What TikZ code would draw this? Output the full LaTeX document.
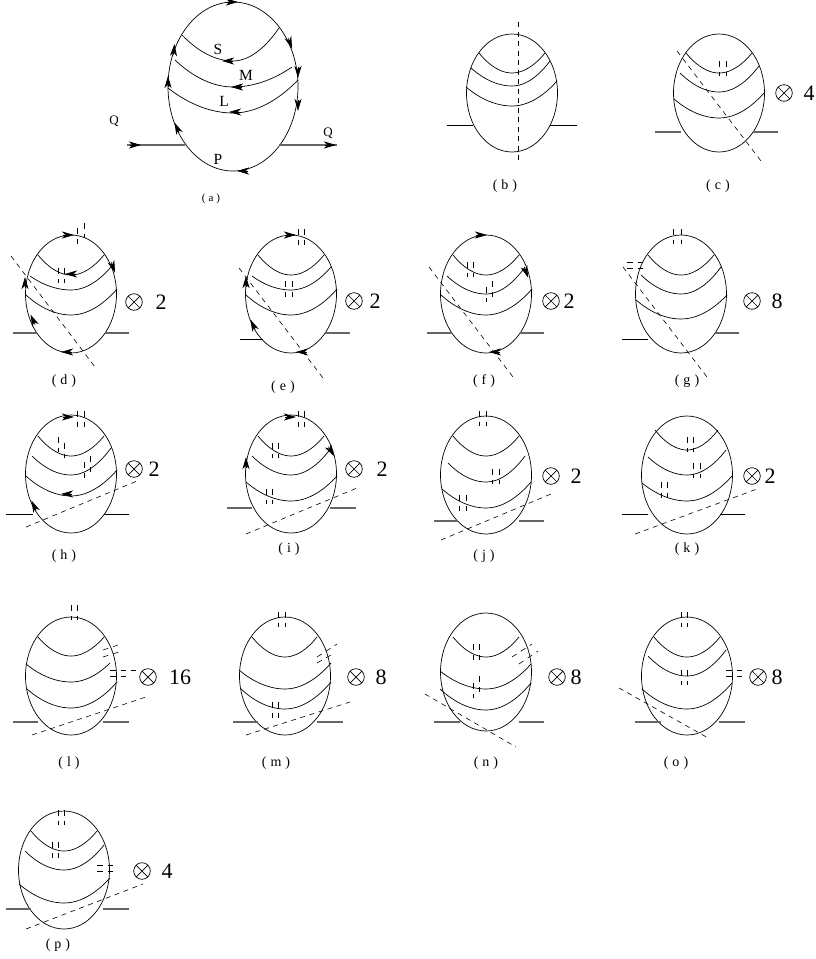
\documentclass[tikz,border=0pt]{standalone}
\usepackage{fontspec}
\setmainfont{Liberation Serif}
\usetikzlibrary{arrows.meta}
\newcommand{\egg}[3]{\begin{scope}[shift={(#1,#2)}]
  \draw[eggline] (0,0) ellipse (45.5 and 59);
  \foreach \xa/\ya/\yb/\xc/\yc in {#3} \draw[eggline] (\xa,\ya) parabola bend (0,\yb) (\xc,\yc);
\end{scope}}
\newcommand{\ticks}[1]{\foreach \xa/\ya/\xb/\yb in {#1} \draw[tick] (\xa,\ya) -- (\xb,\yb);}
\newcommand{\heads}[1]{\foreach \xa/\ya/\ang in {#1} \draw[head] (\xa,\ya) ++(\ang+180:5) -- ++(\ang:11);}
\newcommand{\factor}[5]{\draw[eggline] (#2,#3) circle (8.3) +(45:8.3) -- +(225:8.3) +(135:8.3) -- +(-45:8.3);
  \node[num] (n#1) at (#4,#3) {#5};}
\newcommand{\lbl}[3]{\node[caplabel] (cap#1) at (#2,#3) {(\hspace{4pt}#1\hspace{4pt})};}

\begin{document}
\begin{tikzpicture}[x=1pt, y=-1pt,
  eggline/.style={line width=0.7pt},
  leg/.style={line width=0.7pt},
  greyleg/.style={line width=1.1pt, black!60},
  cut/.style={line width=0.6pt, dash pattern=on 5pt off 4.5pt},
  tick/.style={line width=0.6pt, dash pattern=on 5.5pt off 5pt},
  head/.style={line width=0.7pt, -{Stealth[length=12pt, width=7pt, inset=3.5pt]}},
  num/.style={font=\fontsize{22}{26}\selectfont, inner sep=0pt},
  caplabel/.style={font=\fontsize{14}{16}\selectfont, inner sep=0pt},
  qlabel/.style={font=\fontsize{13}{15}\selectfont, inner sep=0pt},
  part/.style={font=\fontsize{15.5}{18}\selectfont, inner sep=0pt}]
\useasboundingbox (0,0) rectangle (815,959);

\draw[eggline] (233,86.5) ellipse (65 and 84.5);
\foreach \xa/\ya/\yb/\xc/\yc in {182/35/61/279/28, 175/60/87/292/67, 168/88/113/298/80}
  \draw[eggline] (\xa,\ya) parabola bend (233,\yb) (\xc,\yc);
\draw[greyleg] (127,145) -- (185,145);
\draw[greyleg] (279,145) -- (337,145);
\heads{232/2/0, 290/43/70, 298/72/90, 298/105/90, 174/50/-85, 168/82/-90, 177/128/-115, 243/171/180, 228/61/180, 237/87/180, 235/112/180, 135/145/0, 330/145/0}
\node[part] (s) at (218,49) {S};
\node[part] (m) at (246,75) {M};
\node[part] (l) at (224,101) {L};
\node[part] (p) at (218,159) {P};
\node[qlabel] (qa) at (114,121) {Q};
\node[qlabel] (qb) at (328,133) {Q};
\node[caplabel, font=\fontsize{11}{13}\selectfont] (capa) at (211,199) {(\hspace{3pt}a\hspace{3pt})};

\egg{512}{93}{-33/-40/-20/33/-40, -41/-25/-7/38/-32, -46/-6/13/45/-12}
\draw[leg] (447,125) -- (473,125);
\draw[leg] (550,125) -- (577,125);
\draw[cut] (518,22) -- (518,162);
\lbl{b}{505}{186}

\egg{719}{93}{-33/-40/-20/33/-40, -39/-20/-1/40/-27, -45/6/25/45/0}
\draw[greyleg] (655,132) -- (681,132);
\draw[greyleg] (753,132) -- (778,132);
\draw[cut] (677,51) -- (761,161);
\ticks{719/61/719/76, 726/61/726/76}
\factor{c}{784}{93}{809}{4}
\lbl{c}{718}{186}

\egg{71}{294}{-33/-39/-19/33/-39, -41/-18/-4/40/-27, -45/1/21/46/-5}
\draw[greyleg] (13,333) -- (37,333);
\draw[greyleg] (105,333) -- (129,333);
\draw[cut] (11,256) -- (95,367);
\ticks{77/228/77/244, 84/223/84/238, 58/268/58/283, 64/268/64/283}
\heads{68/235/0, 113/267/70, 25/283/-90, 33/320/-115, 67/352/180, 71/274/180}
\factor{d}{134}{302}{161}{2}
\lbl{d}{64}{381}

\egg{291}{294}{-33/-39/-19/33/-39, -39/-18/-4/40/-27, -45/1/21/46/-5}
\draw[leg] (240,339) -- (263,339);
\draw[greyleg] (325,333) -- (350,333);
\draw[cut] (239,268) -- (323,378);
\ticks{298/229/298/245, 304/229/304/245, 285/281/285/297, 292/281/292/297}
\heads{290/235/0, 246/282/-90, 253/325/-115, 302/352/180}
\factor{e}{354}{301}{375}{2}
\lbl{e}{283}{387}

\egg{486}{294}{-33/-39/-19/33/-39, -39/-18/0/39/-27, -45/1/21/46/-5}
\draw[greyleg] (427,333) -- (452,333);
\draw[greyleg] (520,333) -- (544,333);
\draw[cut] (429,267) -- (513,377);
\ticks{467/262/467/277, 473/262/473/277, 486/287/486/302, 492/281/492/297}
\heads{481/235/0, 526/272/70, 495/352/180}
\factor{f}{551}{301}{569}{2}
\lbl{f}{484}{381}

\egg{681}{294}{-33/-39/-19/33/-39, -40/-19/0/40/-27, -45/6/25/46/1}
\draw[leg] (622,339) -- (648,339);
\draw[greyleg] (715,333) -- (739,333);
\draw[cut] (623,267) -- (707,377);
\ticks{673/229/673/244, 681/229/681/244, 627/262/644/262, 627/268/644/268}
\factor{g}{752}{301}{777}{8}
\lbl{g}{687}{381}

\egg{71}{474}{-33/-38/-18/33/-38, -39/-18/1/40/-26, -45/2/22/46/-4}
\draw[leg] (6,514) -- (33,514);
\draw[leg] (104,514) -- (129,514);
\draw[cut] (26,527) -- (137,481);
\ticks{77/411/77/427, 84/411/84/427, 58/437/58/452, 64/443/64/458, 84/462/84/478, 90/456/90/472}
\heads{68/417/0, 67/494/180, 34/506/-115}
\factor{h}{134}{469}{154}{2}
\lbl{h}{64}{556}

\egg{291}{474}{-33/-38/-18/33/-38, -39/-18/1/40/-26, -45/8/27/46/2}
\draw[greyleg] (227,508) -- (252,508);
\draw[greyleg] (330,508) -- (356,508);
\draw[cut] (246,534) -- (357,488);
\ticks{298/411/298/427, 304/411/304/427, 272/443/272/458, 278/443/278/458, 266/489/266/504, 272/489/272/504}
\heads{290/417/0, 331/451/60, 246/463/-90}
\factor{i}{354}{469}{382}{2}
\lbl{i}{289}{549}

\egg{486}{475}{-33/-39/-19/33/-39, -38/-12/7/39/-19, -44/14/33/45/7}
\draw[greyleg] (434,521) -- (458,521);
\draw[greyleg] (519,521) -- (544,521);
\draw[cut] (441,540) -- (551,494);
\ticks{479/411/479/426, 486/411/486/426, 492/469/492/484, 499/469/499/484, 459/495/459/511, 466/495/466/511}
\factor{j}{551}{476}{576}{2}
\lbl{j}{484}{556}

\egg{687}{475}{-32/-45/-25/31/-45, -39/-18/0/39/-25, -45/8/26/45/1}
\draw[leg] (622,514) -- (648,514);
\draw[leg] (720,514) -- (745,514);
\draw[cut] (635,534) -- (757,489);
\ticks{687/437/687/452, 693/437/693/452, 693/463/693/478, 700/463/700/478, 661/482/661/498, 667/482/667/498}
\factor{k}{752}{476}{770}{2}
\lbl{k}{687}{549}

\egg{71}{676}{-33/-39/-20/33/-39, -45/-12/6/39/-13, -44/13/32/46/6}
\draw[greyleg] (13,722) -- (38,722);
\draw[greyleg] (103,722) -- (129,722);
\draw[cut] (32,735) -- (146,697);
\ticks{71/605/71/620, 77/605/77/620, 103/650/118/645, 103/657/119/652, 110/670/136/670, 110/676/128/676}
\factor{l}{148}{677}{180}{16}
\lbl{l}{69}{763}

\egg{285}{676}{-33/-39/-19/32/-39, -46/-6/13/46/-13, -44/13/33/46/6}
\draw[greyleg] (233,722) -- (258,722);
\draw[greyleg] (317,722) -- (343,722);
\draw[cut] (246,735) -- (350,702);
\ticks{278/612/278/627, 285/612/285/627, 317/657/337/644, 317/663/331/655, 272/702/272/718, 278/702/278/718}
\factor{m}{356}{677}{381}{8}
\lbl{m}{276}{763}

\egg{486}{672}{-33/-35/-15/33/-35, -46/-1/17/45/-8, -46/17/38/45/11}
\draw[greyleg] (434,722) -- (460,722);
\draw[greyleg] (519,722) -- (544,722);
\draw[cut] (425,694) -- (516,747);
\ticks{473/644/473/660, 479/644/479/660, 473/683/473/698, 479/676/479/692, 512/657/532/644, 519/664/538/651}
\factor{n}{557}{677}{576}{8}
\lbl{n}{486}{763}

\egg{687}{676}{-33/-39/-19/33/-39, -39/-20/0/39/-26, -45/13/33/45/7}
\draw[greyleg] (635,722) -- (661,722);
\draw[greyleg] (719,722) -- (745,722);
\draw[cut] (619,688) -- (710,739);
\ticks{681/612/681/627, 687/612/687/627, 681/670/681/685, 687/670/687/685, 726/670/742/670, 726/676/742/676}
\factor{o}{758}{677}{777}{8}
\lbl{o}{676}{763}

\egg{64}{870}{-33/-39/-19/33/-39, -39/-19/0/40/-25, -45/14/33/46/8}
\draw[greyleg] (6,909) -- (31,909);
\draw[greyleg] (103,909) -- (129,909);
\draw[cut] (26,929) -- (143,884);
\ticks{58/810/58/825, 64/810/64/825, 52/842/52/858, 58/842/58/858, 97/865/113/865, 97/871/113/871}
\factor{p}{142}{871}{167}{4}
\lbl{p}{58}{945}
\end{tikzpicture}
\end{document}
